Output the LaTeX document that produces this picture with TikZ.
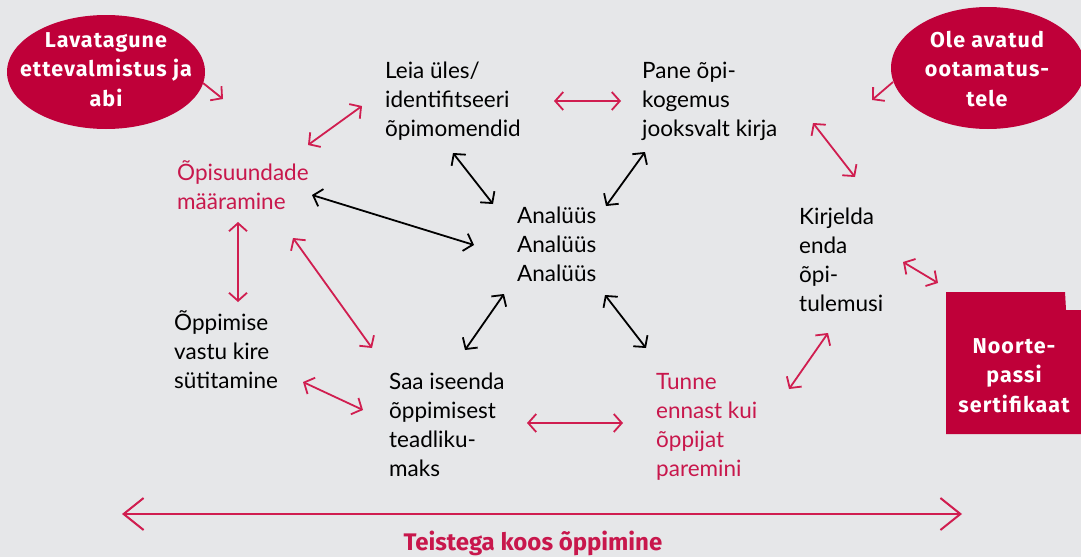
\documentclass[tikz,border=0pt]{standalone}
\usepackage{graphicx}
\usepackage{fontspec}
\setmainfont{Lato}
\newfontfamily\headf[LetterSpace=5]{Fira Sans}
\newfontfamily\footf{Fira Sans}
\usetikzlibrary{arrows.meta,shapes.geometric}
\definecolor{bg}{HTML}{E6E7E9}
\definecolor{redfill}{HTML}{BF0039}
\definecolor{redtext}{HTML}{C8174C}
\definecolor{redline}{HTML}{D01E50}
\begin{document}
\begin{tikzpicture}[x=1pt,y=-1pt,
  lbl/.style={anchor=base west, inner sep=0pt, align=left, font=\fontsize{22.5}{29}\selectfont, text=black},
  rlbl/.style={lbl, text=redtext},
  wlbl/.style={anchor=base, inner sep=0pt, align=center, text=white, font=\headf\bfseries\fontsize{21.5}{29.5}\selectfont},
  blob/.style={ellipse, fill=redfill, inner sep=0pt},
  rarr/.style={draw=redline, line width=1.8pt, {Straight Barb[length=8pt,width=18pt]}-{Straight Barb[length=8pt,width=18pt]}},
  rone/.style={draw=redline, line width=1.8pt, -{Straight Barb[length=8pt,width=18pt]}},
  barr/.style={draw=black, line width=1.8pt, {Straight Barb[length=8pt,width=18pt]}-{Straight Barb[length=8pt,width=18pt]}},
  bigarr/.style={draw=redline, line width=2pt, {Straight Barb[length=20pt,width=32pt]}-{Straight Barb[length=20pt,width=32pt]}}
]
\useasboundingbox (0,0) rectangle (1081,557);
\fill[bg] (0,0) rectangle (1081,557);

% red shapes
\node[blob, minimum width=198pt, minimum height=114pt] (lava) at (106,72) {};
\node[wlbl] (lavat) at (106,106) {Lavatagune\\ettevalmistus ja\\abi};
\node[blob, minimum width=194pt, minimum height=122pt] (ole) at (988,68) {};
\node[wlbl] (olet) at (987,106) {Ole avatud\\ootamatus-\\tele};
\fill[redfill] (946,292) -- (1065,292) -- (1066,310) -- (1085,310) -- (1085,434) -- (946,434) -- cycle;
\node[wlbl] (noorte) at (1014,412) {Noorte-\\passi\\sertifikaat};

% text nodes (placed at the baseline of their last line)
\node[lbl] (leia) at (385,136) {Leia üles/\\identifitseeri\\õpimomendid};
\node[lbl] (pane) at (642,136) {Pane õpi-\\kogemus\\jooksvalt kirja};
\node[rlbl] (opis) at (177,209) {Õpisuundade\\määramine};
\node[lbl] (anal) at (517,281) {Analüüs\\Analüüs\\Analüüs};
\node[lbl] (kirj) at (799,311) {Kirjelda\\enda\\õpi-\\tulemusi};
\node[lbl] (oppi) at (174,388) {Õppimise\\vastu kire\\sütitamine};
\node[lbl] (saa) at (389,476) {Saa iseenda\\õppimisest\\teadliku-\\maks};
\node[rlbl] (tunne) at (656,476) {Tunne\\ennast kui\\õppijat\\paremini};

% free ends
\coordinate (lavaend) at (223,99);
\coordinate (oleend) at (872,100);
\coordinate (bl) at (122,514);
\coordinate (br) at (962,514);

% red connectors
\draw[rone] ([shift={(97,11)}]lava.center) -- (lavaend);
\draw[rone] ([shift={(-95,14)}]ole.center) -- (oleend);
\draw[rarr] ([shift={(131,-64)}]opis.base west) -- ([shift={(-23,-30)}]leia.base west);
\draw[rarr] ([shift={(169,-35)}]leia.base west) -- ([shift={(-21,-35)}]pane.base west);
\draw[rarr] ([shift={(61,13)}]opis.base west) -- ([shift={(64,-86)}]oppi.base west);
\draw[rarr] ([shift={(116,29)}]opis.base west) -- ([shift={(-17,-128)}]saa.base west);
\draw[rarr] ([shift={(129,-6)}]oppi.base west) -- ([shift={(-26,-66)}]saa.base west);
\draw[rarr] ([shift={(138,-53)}]saa.base west) -- ([shift={(-33,-53)}]tunne.base west);
\draw[rarr] ([shift={(133,-87)}]tunne.base west) -- ([shift={(29,22)}]kirj.base west);
\draw[rarr] ([shift={(171,-13)}]pane.base west) -- ([shift={(56,-134)}]kirj.base west);
\draw[rarr] ([shift={(104,-49)}]kirj.base west) -- ([shift={(-76,-129)}]noorte.base);

% black connectors
\draw[barr] ([shift={(135,-14)}]opis.base west) -- ([shift={(-43,-36)}]anal.base west);
\draw[barr] ([shift={(68,17)}]leia.base west) -- ([shift={(-24,-77)}]anal.base west);
\draw[barr] ([shift={(3,16)}]pane.base west) -- ([shift={(89,-75)}]anal.base west);
\draw[barr] ([shift={(-13,13)}]anal.base west) -- ([shift={(76,-126)}]saa.base west);
\draw[barr] ([shift={(88,14)}]anal.base west) -- ([shift={(-10,-128)}]tunne.base west);

% bottom
\draw[bigarr] (bl) -- (br);
\node[anchor=base, inner sep=0pt, text=redtext, font=\footf\bfseries\fontsize{24}{28}\selectfont] (teis) at (533,550) {Teistega koos õppimine};
\end{tikzpicture}
\end{document}
